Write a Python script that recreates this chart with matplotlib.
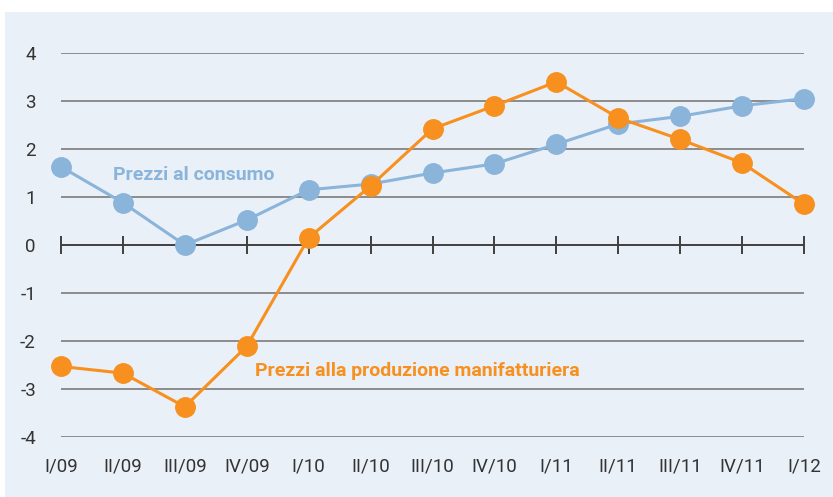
import matplotlib
matplotlib.use("Agg")
import matplotlib.pyplot as plt
from matplotlib.patches import Rectangle

quarters = ["I/09", "II/09", "III/09", "IV/09", "I/10", "II/10", "III/10",
            "IV/10", "I/11", "II/11", "III/11", "IV/11", "I/12"]
consumo = [1.63, 0.88, 0.0, 0.52, 1.15, 1.27, 1.50, 1.69, 2.10, 2.52, 2.68, 2.90, 3.05]
produzione = [-2.53, -2.67, -3.37, -2.11, 0.15, 1.23, 2.42, 2.90, 3.40, 2.65, 2.20, 1.71, 0.85]
yticks = [-4, -3, -2, -1, 0, 1, 2, 3, 4]

blue = "#8AB4DA"
orange = "#F7901E"
panel = "#EAF0F8"

plt.rcParams['font.family'] = ['Roboto', 'DejaVu Sans']

W, H = 833, 497
fig = plt.figure(figsize=(W / 100, H / 100), dpi=100)
fig.patches.append(Rectangle((5 / W, 0), 1, 1 - 12 / H, transform=fig.transFigure,
                             facecolor=panel, edgecolor="none", zorder=-10))

ax = fig.add_axes([61 / W, 1 - 437 / H, (804 - 61) / W, (437 - 53) / H])
ax.set_facecolor("none")
x = list(range(len(quarters)))
ax.set_xlim(0, len(quarters) - 1)
ax.set_ylim(-4, 4)

for v in yticks:
    if v != 0:
        ax.axhline(v, color="#8C8C8C", lw=1.4, zorder=1)
ax.axhline(0, color="#404040", lw=1.4, zorder=1)
ax.plot(x, [0] * len(x), ls="none", marker="|", ms=13, mew=1.4, color="#404040",
        zorder=1, clip_on=False)

ax.plot(x, consumo, color=blue, lw=2.2, marker="o", ms=14, zorder=3, clip_on=False)
ax.plot(x, produzione, color=orange, lw=2.2, marker="o", ms=14, zorder=4, clip_on=False)

ax.text(0.84, 1.46, "Prezzi al consumo", color=blue, fontsize=14, fontweight="bold",
        va="center", ha="left")
ax.text(3.13, -2.63, "Prezzi alla produzione manifatturiera", color=orange, fontsize=14,
        fontweight="bold", va="center", ha="left")

for s in ax.spines.values():
    s.set_visible(False)
ax.set_yticks(yticks)
ax.set_yticklabels([str(v) for v in yticks])
ax.tick_params(axis="y", length=0, pad=18, labelsize=13.5, labelcolor="#333333")
ax.set_xticks([])
for xi, lab in zip(x, quarters):
    ax.text(xi, -4.62, lab, ha="center", va="center", fontsize=13.5, color="#333333")

fig.savefig("out.png", dpi=100)
